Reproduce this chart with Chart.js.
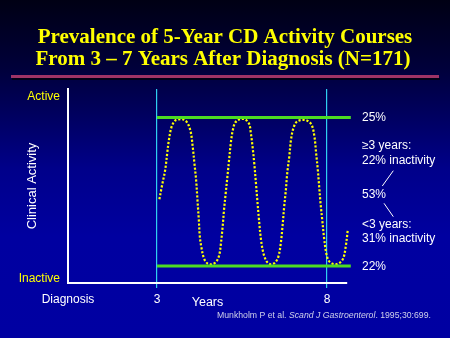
<!DOCTYPE html>
<html>
<head>
<meta charset="utf-8">
<script src="https://cdn.jsdelivr.net/npm/chart.js@4/dist/chart.umd.min.js"></script>
<style>
  html, body { margin: 0; padding: 0; width: 450px; height: 338px; overflow: hidden;
    background: linear-gradient(to bottom, #000014 0%, #00003a 20%, #00008a 50%, #0000a0 70%, #0000a2 100%); }
  canvas { display: block; }
</style>
</head>
<body>
<canvas id="c" width="450" height="338"></canvas>
<script>
// ---- data ----
const titleLines = ['Prevalence of 5-Year CD Activity Courses', 'From 3 \u2013 7 Years After Diagnosis (N=171)'];
const xTickValues = [0.382, 3, 8];
const xTickLabels = ['Diagnosis', '3', '8'];
const yTickValues = [0, 100];
const yTickLabels = ['Inactive', 'Active'];
const bandYears = [3, 8.7];
const upperBand = 88.8;   // "active" reference level
const lowerBand = 7.1;    // "inactive" reference level
const curveYears = [3.07,3.14,3.24,3.30,3.35,3.43,3.53,3.63,3.77,3.89,3.99,4.05,4.10,4.15,4.19,4.23,4.26,4.31,4.38,4.48,4.61,4.74,4.83,4.88,4.93,4.97,5.02,5.07,5.12,5.17,5.23,5.30,5.42,5.59,5.71,5.76,5.81,5.86,5.91,5.95,6.00,6.06,6.13,6.23,6.34,6.47,6.57,6.64,6.69,6.74,6.79,6.83,6.89,6.94,7.01,7.11,7.26,7.42,7.55,7.63,7.68,7.73,7.77,7.81,7.86,7.91,7.97,8.04,8.14,8.26,8.38,8.48,8.55,8.61,8.66,8.71,8.74];
const curveActivity = [43.8,50.7,59.9,69.1,76.4,83.7,87.0,87.7,87.7,85.9,80.9,72.7,63.6,54.4,43.4,32.4,23.2,16.9,11.4,8.6,8.1,9.5,13.2,19.6,28.7,37.9,47.1,56.2,65.4,74.6,81.9,85.9,87.7,87.7,85.2,80.1,72.7,63.6,52.6,43.4,32.4,21.4,14.1,9.5,8.1,9.0,12.3,19.6,28.7,39.7,48.9,58.1,67.2,76.4,82.8,86.4,87.4,87.0,84.6,78.2,69.1,59.9,50.7,41.6,32.4,23.2,15.0,10.4,8.6,8.1,9.0,11.4,17.7,26.9,36.1,43.4,47.1];
const sideLabels = ['25%', '\u22653 years:', '22% inactivity', '53%', '<3 years:', '31% inactivity', '22%'];
const citationParts = ['Munkholm P et al. ', 'Scand J Gastroenterol', '. 1995;30:699.'];

// ---- styles ----
const SANS = "'Liberation Sans', Arial, sans-serif";
Chart.defaults.font.family = SANS;
const GREEN = '#4ddc22';
const CYAN = '#2fd0f0';

const toPts = (xs, ys) => xs.map((x, i) => ({x: x, y: ys[i]}));

const overlay = {
  id: 'overlay',
  afterDraw(chart) {
    const ctx = chart.ctx;
    const ys = chart.scales.y;
    ctx.save();
    // title
    ctx.fillStyle = '#ffff00';
    ctx.font = "bold 21px 'Liberation Serif', 'Times New Roman', serif";
    ctx.textAlign = 'center';
    ctx.textBaseline = 'alphabetic';
    ctx.fillText(titleLines[0], 225, 43);
    ctx.fillText(titleLines[1], 223, 65);
    // rule
    ctx.fillStyle = '#000018';
    ctx.fillRect(12, 78, 428, 2);
    ctx.fillStyle = '#9e3366';
    ctx.fillRect(11, 75, 428, 3);
    // side labels
    ctx.fillStyle = '#ffffff';
    ctx.font = '12px ' + SANS;
    ctx.textAlign = 'left';
    ctx.textBaseline = 'middle';
    const lx = 362;
    ctx.fillText(sideLabels[0], lx, ys.getPixelForValue(upperBand));
    ctx.fillText(sideLabels[1], lx, 146);
    ctx.fillText(sideLabels[2], lx, 161);
    ctx.fillText(sideLabels[3], lx, 195);
    ctx.fillText(sideLabels[4], lx, 224.5);
    ctx.fillText(sideLabels[5], lx, 238.5);
    ctx.fillText(sideLabels[6], lx, ys.getPixelForValue(lowerBand) + 0.5);
    ctx.strokeStyle = '#ffffff';
    ctx.lineWidth = 1;
    ctx.beginPath();
    ctx.moveTo(393.3, 170.7); ctx.lineTo(382.3, 186);
    ctx.moveTo(384, 203.3); ctx.lineTo(393.3, 216.7);
    ctx.stroke();
    // citation
    ctx.fillStyle = '#cfd0ea';
    let cx = 217;
    const cy = 316;
    ctx.font = '8.7px ' + SANS;
    ctx.fillText(citationParts[0], cx, cy); cx += ctx.measureText(citationParts[0]).width;
    ctx.font = 'italic 8.7px ' + SANS;
    ctx.fillText(citationParts[1], cx, cy); cx += ctx.measureText(citationParts[1]).width;
    ctx.font = '8.7px ' + SANS;
    ctx.fillText(citationParts[2], cx, cy);
    ctx.restore();
  }
};

new Chart(document.getElementById('c'), {
  type: 'line',
  data: {
    datasets: [
      { data: toPts(bandYears, [upperBand, upperBand]), borderColor: GREEN, borderWidth: 3, pointRadius: 0, clip: false },
      { data: toPts(bandYears, [lowerBand, lowerBand]), borderColor: GREEN, borderWidth: 3, pointRadius: 0, clip: false },
      { data: toPts(curveYears, curveActivity), borderColor: '#ffff00', borderWidth: 2.2, borderDash: [2.2, 1.8],
        pointRadius: 0, tension: 0.35, clip: false }
    ]
  },
  options: {
    responsive: false,
    animation: false,
    events: [],
    layout: { padding: { top: 89, right: 103, left: 0, bottom: 0 } },
    plugins: { legend: { display: false }, tooltip: { enabled: false }, title: { display: false } },
    scales: {
      x: {
        type: 'linear', min: xTickValues[0], max: 8.588,
        afterFit(s) { s.height = 55; },
        afterBuildTicks(s) { s.ticks = xTickValues.map(v => ({value: v})); },
        ticks: { color: '#ffffff', font: { size: 12 }, padding: 4, maxRotation: 0, autoSkip: false,
          callback(v) { const i = xTickValues.indexOf(v); return i >= 0 ? xTickLabels[i] : ''; } },
        grid: { display: true, drawOnChartArea: true, drawTicks: true, tickLength: 5, lineWidth: 1.2,
          color: c => (c.tick && c.tick.value !== xTickValues[0]) ? CYAN : 'rgba(0,0,0,0)',
          tickColor: c => (c.tick && c.tick.value !== xTickValues[0]) ? CYAN : 'rgba(0,0,0,0)' },
        border: { display: true, color: '#ffffff', width: 2 },
        title: { display: true, text: 'Years', color: '#ffffff', font: { size: 12.5 }, padding: { top: 0, bottom: 28 } }
      },
      y: {
        type: 'linear', min: -2.2, max: 104.4,
        afterFit(s) { s.width = 68; },
        afterBuildTicks(s) { s.ticks = yTickValues.map(v => ({value: v})); },
        ticks: { color: '#ffff00', font: { size: 12 }, padding: 8,
          callback(v) { const i = yTickValues.indexOf(v); return i >= 0 ? yTickLabels[i] : ''; } },
        grid: { display: false, drawTicks: false },
        border: { display: true, color: '#ffffff', width: 2 },
        title: { display: true, text: 'Clinical Activity', color: '#ffffff', font: { size: 13 }, padding: { top: 25, bottom: 0 } }
      }
    }
  },
  plugins: [overlay]
});
</script>
</body>
</html>
